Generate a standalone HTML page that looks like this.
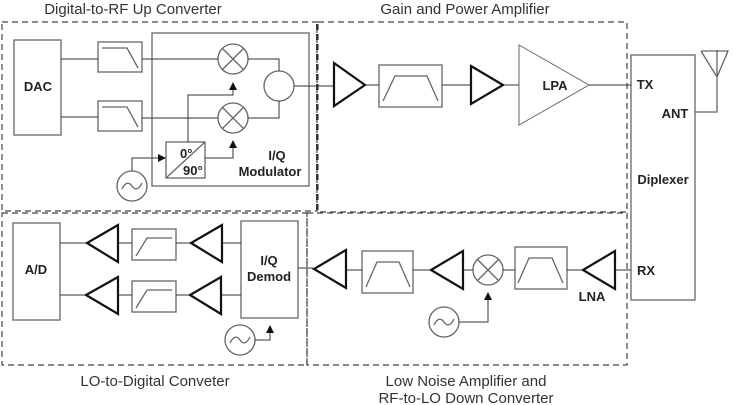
<!DOCTYPE html>
<html><head><style>body{margin:0;background:#fff}svg{display:block}</style></head><body>
<svg width="733" height="405" viewBox="0 0 733 405" xmlns="http://www.w3.org/2000/svg" font-family="Liberation Sans, Arial, sans-serif">
<defs><marker id="ar" markerWidth="8" markerHeight="8" refX="7" refY="4" orient="auto" markerUnits="userSpaceOnUse"><path d="M0,0 L8,4 L0,8 z" fill="#111"/></marker></defs>
<g fill="none" stroke="#444" stroke-width="1.2" stroke-dasharray="6,4">
<rect x="2" y="22" width="315" height="189"/>
<rect x="318" y="22" width="309" height="190"/>
<rect x="2" y="213" width="305" height="152"/>
<rect x="307" y="213" width="320" height="152"/>
</g>
<line x1="317" y1="24" x2="317" y2="211" stroke="#333" stroke-width="2" stroke-dasharray="6,4"/>
<g fill="#333" font-size="15" text-anchor="middle">
<text x="133" y="14">Digital-to-RF Up Converter</text>
<text x="465" y="14">Gain and Power Amplifier</text>
<text x="155" y="386">LO-to-Digital Conveter</text>
<text x="466" y="386">Low Noise Amplifier and</text>
<text x="466" y="403">RF-to-LO Down Converter</text>
</g>
<g fill="none" stroke="#666" stroke-width="1.3">
<!-- top -->
<rect x="14" y="40" width="47" height="95"/>
<rect x="98" y="42" width="44" height="30"/>
<rect x="98" y="101" width="44" height="30"/>
<rect x="152" y="33" width="157" height="153"/>
<rect x="166" y="142" width="39" height="36"/>
<circle cx="233" cy="59" r="15"/><circle cx="233" cy="118" r="15"/>
<circle cx="279" cy="86" r="15"/>
<circle cx="132" cy="186" r="15"/>
<path d="M122,189 q5,-10 10,-3 q5,7 10,-3"/>
<path d="M222,48 L244,70 M244,48 L222,70 M222,107 L244,129 M244,107 L222,129"/>
<path d="M102,48 H127 L138,68 M102,107 H127 L138,127"/>
<path d="M166,178 L205,142"/>
<!-- lower left -->
<rect x="13" y="223" width="47" height="97"/>
<rect x="132" y="229" width="44" height="31"/>
<rect x="132" y="281" width="44" height="31"/>
<rect x="241" y="221" width="57" height="97"/>
<circle cx="240" cy="340" r="15"/>
<path d="M230,343 q5,-10 10,-3 q5,7 10,-3"/>
<path d="M136,256 L147,238 H172 M136,308 L147,290 H172"/>
<!-- lower right -->
<rect x="362" y="251" width="51" height="42"/>
<rect x="515" y="247" width="52" height="42"/>
<circle cx="488" cy="270" r="15"/>
<path d="M477,259 L499,281 M499,259 L477,281"/>
<circle cx="444" cy="322" r="15"/>
<path d="M434,325 q5,-10 10,-3 q5,7 10,-3"/>
<path d="M366,287 L377,262 H399 L410,287 M518,283 L529,258 H552 L563,283"/>
<!-- gain -->
<rect x="379" y="65" width="63" height="42"/>
<path d="M383,101 L395,76 H427 L438,101"/>
<path d="M519,45 L589,85 L519,125 Z" stroke-width="1"/>
<rect x="631" y="55" width="64" height="245"/>
<path d="M695,112 H717 V50 M701,51 H728 L717,77 L701,51"/>
</g>
<g fill="none" stroke="#333" stroke-width="1">
<path d="M61,59 H98 M142,59 H218 M61,117 H98 M142,118 H218"/>
<path d="M248,59 H279 V71 M248,118 H279 V101 M294,86 H333"/>
<path d="M188,142 V95 H233 V83" marker-end="url(#ar)"/>
<path d="M205,158 H233 V141" marker-end="url(#ar)"/>
<path d="M132,171 V158 H165" marker-end="url(#ar)"/>
<path d="M365,85 H379 M442,85 H470 M503,85 H519 M589,85 H631"/>
<path d="M60,243 H88 M118,243 H132 M176,243 H192 M222,243 H241 M60,295 H88 M118,295 H132 M176,295 H192 M222,295 H241"/>
<path d="M255,340 H270 V326" marker-end="url(#ar)"/>
<path d="M298,268 H313 M346,270 H362 M413,270 H430 M463,270 H473 M503,270 H515 M567,270 H583 M615,270 H631"/>
<path d="M459,322 H488 V293" marker-end="url(#ar)"/>
</g>
<g fill="none" stroke="#111" stroke-width="2.2" stroke-linejoin="miter">
<path d="M334,63 L365,85 L334,106 Z"/>
<path d="M471,66 L503,85 L471,104 Z"/>
<path d="M118,225 L87,243 L118,262 Z"/>
<path d="M118,277 L86,295 L118,314 Z"/>
<path d="M222,225 L191,243 L222,262 Z"/>
<path d="M221,277 L190,295 L221,314 Z"/>
<path d="M346,250 L314,269 L346,288 Z"/>
<path d="M463,251 L431,270 L463,289 Z"/>
<path d="M615,251 L583,270 L615,289 Z"/>
</g>
<g fill="#222" font-size="13" font-weight="bold" text-anchor="middle">
<text x="38" y="91">DAC</text>
<text x="36" y="274">A/D</text>
<text x="180" y="158" text-anchor="start">0°</text>
<text x="183" y="175" text-anchor="start">90°</text>
<text x="277" y="160">I/Q</text>
<text x="270" y="176">Modulator</text>
<text x="269" y="265">I/Q</text>
<text x="269" y="281">Demod</text>
<text x="555" y="90">LPA</text>
<text x="645" y="89">TX</text>
<text x="675" y="118">ANT</text>
<text x="663" y="184">Diplexer</text>
<text x="646" y="275">RX</text>
<text x="592" y="301">LNA</text>
</g>
</svg>
</body></html>
